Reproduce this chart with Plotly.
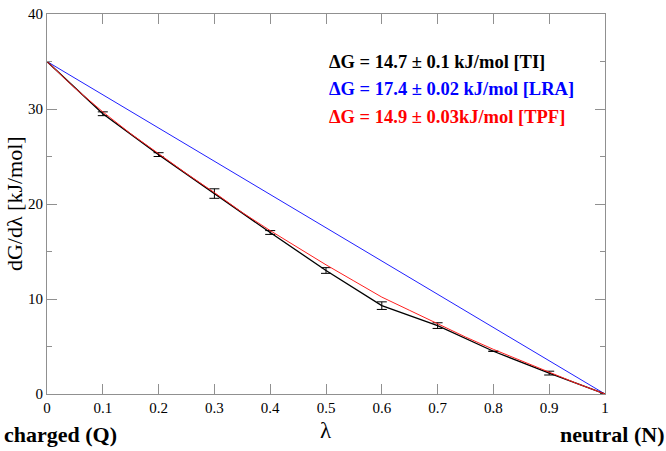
import plotly.graph_objects as go

# TI data (black, with error bars)
lam_ti = [0.0, 0.1, 0.2, 0.3, 0.4, 0.5, 0.6, 0.7, 0.8, 0.9, 1.0]
dgdl_ti = [35.0, 29.5, 25.2, 21.1, 17.0, 13.0, 9.3, 7.2, 4.5, 2.2, 0.0]
err_ti = [0.0, 0.2, 0.2, 0.5, 0.2, 0.3, 0.4, 0.3, 0.0, 0.2, 0.0]

# LRA (blue straight line)
lam_lra = [0.0, 1.0]
dgdl_lra = [35.0, 0.0]

# TPF (red curve)
lam_tpf = [0.0, 0.05, 0.1, 0.15, 0.2, 0.25, 0.3, 0.35, 0.4, 0.45, 0.5,
           0.55, 0.6, 0.65, 0.7, 0.75, 0.8, 0.85, 0.9, 0.95, 1.0]
dgdl_tpf = [35.0, 32.2, 29.7, 27.4, 25.3, 23.2, 21.2, 19.1, 17.2, 15.4, 13.6,
            11.9, 10.2, 8.8, 7.4, 6.0, 4.7, 3.5, 2.3, 1.1, 0.0]

labels = ["ΔG = 14.7 ± 0.1 kJ/mol [TI]",
          "ΔG = 17.4 ± 0.02 kJ/mol [LRA]",
          "ΔG = 14.9 ± 0.03kJ/mol [TPF]"]
label_colors = ["black", "#0000ff", "#ff0000"]

FONT = "Liberation Serif"

fig = go.Figure()
fig.add_trace(go.Scatter(x=lam_lra, y=dgdl_lra, mode="lines",
                         line=dict(color="#2020ff", width=1), showlegend=False))
fig.add_trace(go.Scatter(x=lam_ti, y=dgdl_ti, mode="lines",
                         line=dict(color="black", width=1.3),
                         error_y=dict(type="data", array=err_ti, visible=True,
                                      color="black", thickness=1, width=5),
                         showlegend=False))
fig.add_trace(go.Scatter(x=lam_tpf, y=dgdl_tpf, mode="lines",
                         line=dict(color="#ff2020", width=1), showlegend=False))

axis_common = dict(showline=True, linecolor="#909090", linewidth=1, mirror="ticks",
                   ticks="inside", ticklen=10, tickcolor="#909090", showgrid=False,
                   zeroline=False, ticklabeloverflow="allow",
                   tickfont=dict(family=FONT, size=15, color="black"))

fig.update_xaxes(range=[0, 1], tickvals=[0, 0.1, 0.2, 0.3, 0.4, 0.5, 0.6, 0.7, 0.8, 0.9, 1.0],
                 ticktext=["0", "0.1", "0.2", "0.3", "0.4", "0.5", "0.6", "0.7", "0.8", "0.9", "1"],
                 **axis_common)
fig.update_yaxes(range=[0, 40.0001], tickvals=[0, 10, 20, 30, 40],
                 minor=dict(ticks="inside", ticklen=5, dtick=5, tickcolor="#909090"),
                 **axis_common)

ann_y = [0.874, 0.802, 0.729]
annotations = []
for t, c, yy in zip(labels, label_colors, ann_y):
    annotations.append(dict(text="<b>" + t + "</b>", x=0.502, y=yy,
                            xref="paper", yref="paper", xanchor="left", yanchor="middle",
                            showarrow=False, font=dict(family=FONT, size=18.5, color=c)))
annotations += [
    dict(text="dG/dλ [kJ/mol]", x=-0.059, y=0.5, xref="paper", yref="paper",
         textangle=-90, showarrow=False, xanchor="center", yanchor="middle",
         font=dict(family=FONT, size=22, color="black")),
    dict(text="λ", x=0.5, y=-0.095, xref="paper", yref="paper", showarrow=False,
         xanchor="center", yanchor="middle", font=dict(family=FONT, size=23, color="black")),
    dict(text="<b>charged (Q)</b>", x=-0.080, y=-0.106, xref="paper", yref="paper",
         showarrow=False, xanchor="left", yanchor="middle",
         font=dict(family=FONT, size=22, color="black")),
    dict(text="<b>neutral (N)</b>", x=1.109, y=-0.106, xref="paper", yref="paper",
         showarrow=False, xanchor="right", yanchor="middle",
         font=dict(family=FONT, size=22, color="black")),
]

fig.update_layout(width=666, height=451, margin=dict(l=47, r=61, t=6, b=57),
                  plot_bgcolor="white", paper_bgcolor="white",
                  annotations=annotations, showlegend=False)

fig.write_html("out.html", config={"displayModeBar": False},
               post_script="document.body.style.margin='0';")
